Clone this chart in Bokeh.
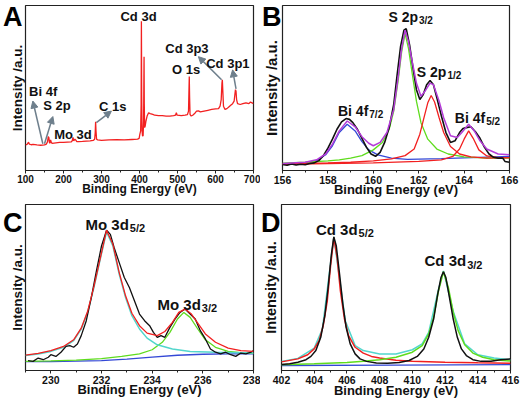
from bokeh.plotting import figure
from bokeh.layouts import column, row
from bokeh.models import Range1d, SingleIntervalTicker, FixedTicker, Label, Arrow, NormalHead
from bokeh.embed import file_html
from bokeh.resources import INLINE

FONT = "Liberation Sans"

# ---------------- Panel A: survey ----------------
a_energy = [100,104,106,108,110,115,120,130,140,150,155,158,160,161.5,163,164,166,168,170,180,190,200,210,220,223,225,227,230,232,235,240,250,260,270,278,282,283.5,284.5,285.5,287,290,300,320,340,360,380,395,399,401,403,404.3,405.0,405.8,406.8,408,409.5,410.8,411.5,412,412.6,413.5,415,417,420,424,428,435,440,450,460,470,480,490,495,497,499,510,520,526,529,530.3,531,531.8,533,536,540,545,550,555,560,570,580,590,600,608,612,615,617,618,619.5,621,625,630,635,640,645,649,651,652.5,654,655.5,658,665,672,680,688,692,696,700]
a_intensity = [15.5,15.8,16.5,17.2,16,15.6,15.8,15.5,15.3,15.5,16,17.5,20.5,20,17,16.5,18.5,17,16.5,16.8,17,17,17.2,17.3,18,20,18,19,18.5,17.5,17.5,17.6,17.8,18,18.2,19,23,29.5,24,19,18.5,18.3,18.5,18.7,18.5,18.8,19,19.5,22,24,40,90.5,45,24,21,21,30,55,69,40,26,27,30,33,35,34.5,34,33.5,33.3,33.3,33,33,33.2,33.6,35,33.5,33.3,33.5,33.8,36,50,57,45,34,33,33.5,34.5,36,36.2,35.5,36,36.5,37,37.3,37.5,39,43,53,55,47,39,37,37.5,38.5,39.5,40.5,42,46,49,48,43,40.5,40,40.5,41,40.5,41.5,41,40.5]
a_label_text = ["Cd 3d", "Cd 3p3", "O 1s", "Cd 3p1", "C 1s", "Bi 4f", "S 2p", "Mo 3d"]
a_label_x = [397.4, 524.8, 522.6, 632.6, 329.6, 146.6, 183.0, 224.8]
a_label_y = [93.3, 74.0, 61.0, 64.8, 38.8, 47.9, 39.6, 21.6]
a_arrow_x0 = [145.6, 150.0, 286.5, 616.0, 654.0]
a_arrow_y0 = [16.2, 16.2, 29.0, 55.0, 49.5]
a_arrow_x1 = [119.3, 172.0, 326.0, 555.0, 645.0]
a_arrow_y1 = [42.1, 32.7, 36.0, 69.0, 61.0]

# ---------------- Panel B: Bi 4f / S 2p ----------------
b_x_data = [156,156.2,156.4,156.6,156.8,157,157.2,157.4,157.6,157.8,158,158.2,158.4,158.6,158.8,158.95,159.1,159.3,159.5,159.7,159.9,160.1,160.3,160.5,160.7,160.9,161.05,161.2,161.35,161.45,161.6,161.75,161.9,162.05,162.2,162.35,162.5,162.65,162.8,163.0,163.2,163.4,163.6,163.8,163.95,164.1,164.3,164.5,164.7,164.9,165.1,165.3,165.5,165.7,165.8,166]
b_y_data = [3.6,3.2,4,3.3,3.8,3.5,4.2,4.6,6,9,13.5,19,25,29.5,31.5,31,29,25,19.5,14,10,8.6,11,17,26,40,58,75,85,86,76,62,49,43,46,52,54.5,52,44,33,23,17,18,23,25.5,26,26.5,23.5,19.5,14,10,8,7.5,7.6,5.5,5]
b_x_env = [156,157,157.5,157.9,158.2,158.5,158.85,159.2,159.5,159.8,160.0,160.3,160.6,160.9,161.1,161.25,161.4,161.55,161.7,161.9,162.1,162.3,162.5,162.65,162.9,163.1,163.4,163.7,163.9,164.2,164.45,164.7,165,165.5,166]
b_y_env = [4.2,5,6.5,10,16,24,30,26.5,20.5,16.5,15,17,23,37,57,74,85,78,67,53,45,48.5,53,52,42,32,21,20,23,28,24,18,13,10,9.5]
b_x_bi72 = [156,157,157.5,157.9,158.2,158.5,158.85,159.2,159.5,159.8,160.2,160.8,161.5,163,166]
b_y_bi72 = [4.0,4.8,6,9.5,15,23,28,24,17.5,12.5,9.5,7.5,6.8,7.2,8.5]
b_x_s32 = [156,157,158,158.5,159,159.5,160,160.4,160.7,160.9,161.1,161.25,161.4,161.55,161.7,161.9,162.1,162.4,162.8,163.3,164,165,166]
b_y_s32 = [4.5,5,5.8,6.5,7.5,9,12.5,17,25,36,55,72,83,74,60,42,29,19,13,10,8.3,7.5,7.5]
b_x_s12 = [156,158,159,160,160.8,161.4,161.8,162.05,162.25,162.4,162.55,162.7,162.9,163.1,163.4,163.8,164.3,165,166]
b_y_s12 = [4,4.6,5,5.8,7,9,13,22,33,41,45.5,41.5,32,23,14.5,10,8.2,7.5,7.8]
b_x_bi52 = [156,160,162,163,163.5,163.8,164,164.2,164.4,164.65,165,165.5,166]
b_y_bi52 = [3.8,4.6,5.5,6.5,8.5,13,19,24,19.5,12.5,8.8,7.8,7.8]
b_label_main = ["S 2p", "S 2p", "Bi 4f", "Bi 4f"]
b_label_sub = ["3/2", "1/2", "7/2", "5/2"]
b_label_x = [161.97, 163.22, 159.78, 164.93]
b_label_y = [93.3, 59.8, 36.2, 32.1]

# ---------------- Panel C: Mo 3d ----------------
c_x_data = [229.1,229.3,229.5,229.7,229.9,230.0,230.2,230.4,230.6,230.75,230.9,231.05,231.2,231.4,231.6,231.8,232.0,232.2,232.35,232.5,232.7,232.9,233.1,233.3,233.5,233.7,233.9,234.05,234.2,234.35,234.5,234.7,234.9,235.1,235.3,235.5,235.7,235.9,236.1,236.3,236.5,236.7,236.9,237.1,237.3,237.5,237.7,237.9,238]
c_y_data = [6,5.5,7.5,6.5,8,9.5,8.5,11,14.5,15,14,16,21,30,44,60,75,84.5,82,74,65,56,50,42,34,30,27,23,20,21,20,26,31,35,37,34,31,24,19,13,11,10,11,9.5,8.5,10.5,10,11,12]
c_x_mo52 = [229,229.5,230,230.5,230.9,231.2,231.45,231.7,231.95,232.2,232.45,232.7,232.95,233.2,233.5,233.8,234.2,234.8,235.5,236.5,238]
c_y_mo52 = [9,10,11.5,14,18,25,35,50,67,83.5,75,58,44,33,25,19.5,15.5,13,11.5,11,10.5]
c_x_mo32 = [229,230,231,232,232.8,233.5,234,234.4,234.7,235,235.25,235.5,235.8,236.1,236.5,237,237.5,238]
c_y_mo32 = [5.5,5.8,6.3,7.2,8.5,10,12.5,17,23,31,35,32,25,18.5,14,11.5,10.7,10.3]
c_x_env = [229,229.5,230,230.5,230.9,231.2,231.45,231.7,231.95,232.2,232.45,232.7,232.95,233.2,233.5,233.8,234.2,234.5,234.8,235.05,235.3,235.55,235.8,236.1,236.5,237,237.5,238]
c_y_env = [9.3,10.3,12,14.5,18.5,25.5,35.5,50.5,67.5,84.5,76,59,45,34.5,27,22.5,21,23.5,29,35,37,34,28.5,22,17,13.5,12,11.5]
c_x_base = [229,230,231,232,233,234,235,236,237,238]
c_y_base = [5.3,5.4,5.6,6,6.8,8,9.2,9.8,10,10]
c_label_main = ["Mo 3d", "Mo 3d"]
c_label_sub = ["5/2", "3/2"]
c_label_x = [233.08, 235.92]
c_label_y = [88.1, 39.8]

# ---------------- Panel D: Cd 3d ----------------
d_x_data = [402,402.5,403,403.5,403.8,404.1,404.4,404.65,404.85,405.05,405.2,405.35,405.55,405.75,405.95,406.2,406.5,406.8,407.2,407.8,408.5,409.2,409.8,410.3,410.7,411.0,411.3,411.55,411.75,411.9,412.05,412.25,412.5,412.75,413.0,413.3,413.7,414.2,414.8,415.4,416]
d_y_data = [3.6,4,5,6.5,8.5,12,20,33,50,70,80.5,75,58,40,26,16,10,7,5.5,4.5,4.3,4.8,6,8.5,13,20,31,46,56,59.5,56,45,31,20,13,9,6.5,5.5,5.6,6.5,7]
d_x_cd52 = [402,403,403.6,404,404.3,404.55,404.8,405.0,405.2,405.4,405.6,405.85,406.1,406.5,407,407.5,408,409,410,412,414,416]
d_y_cd52 = [5.2,7,9.5,13,18,27,42,63,80,68,48,31,21,14,10.5,8.5,7.5,6.2,5.5,5,4.6,4.3]
d_x_cd32 = [402,404,406,407,408,409,410,410.6,411,411.3,411.6,411.9,412.2,412.5,412.8,413.2,413.7,414.3,415,416]
d_y_cd32 = [3.5,4,4.8,5.5,6.5,8,11,15,22,32,48,59.5,50,35,24,15.5,10.5,8,6.5,5.7]
d_x_env = [402,403,404,404.5,405.2,405.9,406.5,407,408,409,410,410.6,411,411.6,411.9,412.5,413.2,414,415,416]
d_y_env = [5.5,7.3,13.5,25,80.5,30,15,12,10,10,12.5,16,23,49,60,35.5,16,9.5,7.5,6.5]
d_x_base = [402,409,416]
d_y_base = [3,3.2,3.5]
d_label_main = ["Cd 3d", "Cd 3d"]
d_label_sub = ["5/2", "3/2"]
d_label_x = [406.65, 413.29]
d_label_y = [85.1, 66.1]

panel_letters = ["A", "B", "C", "D"]
LETTER_POS = 92.8

BLACK = "#111111"
RED = "#f22020"
GREEN = "#5fdc1e"
BLUE = "#3448d6"
PURPLE = "#b43cd8"
CYAN = "#52d6cc"
ARROW = "#6e7f8c"


def make_panel(xr, width, height, bl, br, bt, bb, letter, letter_standoff, ylab_standoff,
               ylab_size, ylab_bounds, tick_size, title_size, tick_standoff, title_standoff):
    p = figure(width=width, height=height, x_range=Range1d(*xr), y_range=Range1d(0, 100),
               output_backend="svg", toolbar_location=None, title=None,
               min_border_left=bl, min_border_right=br, min_border_top=bt, min_border_bottom=bb)
    p.grid.visible = False
    p.outline_line_color = "#222222"
    p.outline_line_width = 1.2
    xa = p.xaxis[0]
    xa.ticker = SingleIntervalTicker(interval=100 if xr[1] - xr[0] > 100 else 2, num_minor_ticks=2)
    xa.axis_label = "Binding Energy (eV)"
    xa.axis_label_text_font = FONT
    xa.axis_label_text_font_style = "bold"
    xa.axis_label_text_font_size = title_size
    xa.axis_label_text_color = BLACK
    xa.axis_label_standoff = title_standoff
    xa.major_label_text_font = FONT
    xa.major_label_text_font_style = "bold"
    xa.major_label_text_font_size = tick_size
    xa.major_label_text_color = BLACK
    xa.major_label_standoff = tick_standoff
    xa.major_tick_in = 0
    xa.major_tick_out = 3
    xa.minor_tick_in = 0
    xa.minor_tick_out = 2
    xa.axis_line_color = "#222222"
    xa.major_tick_line_color = "#222222"
    xa.minor_tick_line_color = "#222222"
    ya = p.yaxis[0]
    ya.ticker = FixedTicker(ticks=[LETTER_POS])
    ya.major_label_overrides = {LETTER_POS: letter}
    ya.major_label_text_font = FONT
    ya.major_label_text_font_style = "bold"
    ya.major_label_text_font_size = "27px"
    ya.major_label_text_color = "black"
    ya.major_tick_out = 0
    ya.major_tick_in = 0
    ya.minor_tick_out = 0
    ya.major_label_standoff = letter_standoff
    ya.axis_line_color = None
    ya.bounds = ylab_bounds
    ya.axis_label = "Intensity /a.u."
    ya.axis_label_text_font = FONT
    ya.axis_label_text_font_style = "bold"
    ya.axis_label_text_font_size = ylab_size
    ya.axis_label_text_color = BLACK
    ya.axis_label_standoff = ylab_standoff
    return p


def sub_labels(p, mains, subs, xs, ys, size_main, size_sub):
    for m, s, x, y in zip(mains, subs, xs, ys):
        p.add_layout(Label(x=x, y=y, text=m, text_font=FONT, text_font_style="bold",
                           text_font_size=size_main, text_color=BLACK,
                           text_align="right", text_baseline="middle"))
        p.add_layout(Label(x=x, y=y, x_offset=1, y_offset=-4, text=s, text_font=FONT,
                           text_font_style="bold", text_font_size=size_sub, text_color=BLACK,
                           text_align="left", text_baseline="middle"))


# Panel A
pa = make_panel((100, 700), 260, 204, 25, 7, 5, 32, panel_letters[0], 3, -25,
                "13.5px", (0, 93), "10px", "12px", 1, -4)
pa.line(a_energy, a_intensity, line_color=RED, line_width=1.3)
for x0, y0, x1, y1 in zip(a_arrow_x0, a_arrow_y0, a_arrow_x1, a_arrow_y1):
    pa.add_layout(Arrow(x_start=x0, y_start=y0, x_end=x1, y_end=y1, line_color=ARROW, line_width=1.5,
                        end=NormalHead(size=7, fill_color=ARROW, line_color=ARROW)))
for t, x, y in zip(a_label_text, a_label_x, a_label_y):
    pa.add_layout(Label(x=x, y=y, text=t, text_font=FONT, text_font_style="bold", text_font_size="13px",
                        text_color=BLACK, text_align="center", text_baseline="middle"))

# Panel B
pb = make_panel((156, 166), 260, 204, 21, 11, 5, 34, panel_letters[1], 1, -21,
                "15px", (13, 93), "10.5px", "13px", 2, -5)
pb.line(b_x_bi72, b_y_bi72, line_color=BLUE, line_width=1.3)
pb.line(b_x_s32, b_y_s32, line_color=GREEN, line_width=1.3)
pb.line(b_x_s12, b_y_s12, line_color=RED, line_width=1.3)
pb.line(b_x_bi52, b_y_bi52, line_color=RED, line_width=1.3)
pb.line(b_x_data, b_y_data, line_color=BLACK, line_width=1.6)
pb.line(b_x_env, b_y_env, line_color=PURPLE, line_width=1.5)
sub_labels(pb, b_label_main, b_label_sub, b_label_x, b_label_y, "14px", "10px")

# Panel C
pc = make_panel((229, 238), 260, 201, 25, 7, 0, 33, panel_letters[2], 3, -25,
                "13.5px", (9.4, 93), "10.5px", "13px", 2, -5)
pc.line(c_x_base, c_y_base, line_color=BLUE, line_width=1.3)
pc.line(c_x_mo32, c_y_mo32, line_color=GREEN, line_width=1.3)
pc.line(c_x_mo52, c_y_mo52, line_color=CYAN, line_width=1.5)
pc.line(c_x_data, c_y_data, line_color=BLACK, line_width=1.3)
pc.line(c_x_env, c_y_env, line_color=RED, line_width=1.3)
sub_labels(pc, c_label_main, c_label_sub, c_label_x, c_label_y, "15px", "11px")

# Panel D
pd_ = make_panel((402, 416), 260, 201, 21, 10, 0, 35, panel_letters[3], 1, -21,
                 "14.5px", (8.2, 93), "10.5px", "13px", 2, -4)
pd_.line(d_x_base, d_y_base, line_color=BLUE, line_width=1.3)
pd_.line(d_x_env, d_y_env, line_color=CYAN, line_width=1.5)
pd_.line(d_x_cd52, d_y_cd52, line_color=RED, line_width=1.5)
pd_.line(d_x_cd32, d_y_cd32, line_color=GREEN, line_width=1.5)
pd_.line(d_x_data, d_y_data, line_color=BLACK, line_width=1.5)
sub_labels(pd_, d_label_main, d_label_sub, d_label_x, d_label_y, "15px", "11px")

layout = column(row(pa, pb), row(pc, pd_))

open("out.html", "w").write(file_html(layout, INLINE))
